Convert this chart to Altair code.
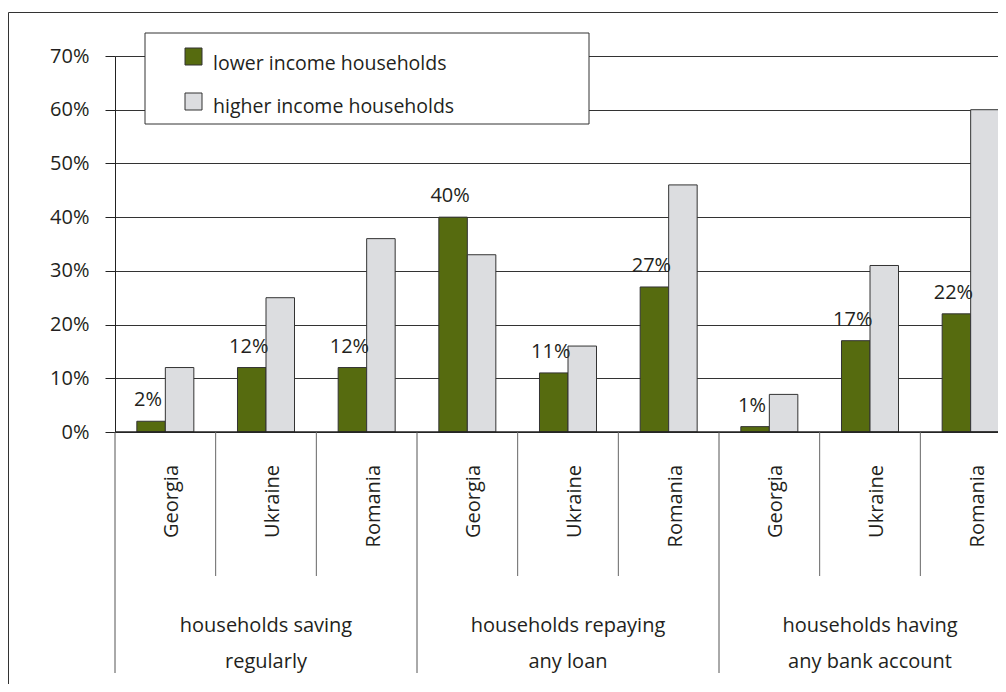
import altair as alt
import pandas as pd

# ---- data ----
groups = ["households saving\nregularly", "households repaying\nany loan", "households having\nany bank account"]
countries = ["Georgia", "Ukraine", "Romania"]
series = ["lower income households", "higher income households"]
lower = [2, 12, 12, 40, 11, 27, 1, 17, 22]
higher = [12, 25, 36, 33, 16, 46, 7, 31, 60]
y_ticks = [0, 10, 20, 30, 40, 50, 60, 70]

colors = ["#566b0f", "#dcdde0"]
FONT = "Open Sans"
TXT = "#231f20"

rows, slot_rows, slots = [], [], []
for gi, g in enumerate(groups):
    for ci, c in enumerate(countries):
        k = gi * 3 + ci
        slot = f"{gi}-{c}"
        slots.append(slot)
        slot_rows.append(dict(slot=slot, group=g, country=c, first=(ci == 0), middle=(ci == 1)))
        for s, v in ((series[0], lower[k]), (series[1], higher[k])):
            rows.append(dict(slot=slot, series=s, value=v, label=f"{v}%"))
df = pd.DataFrame(rows)
sdf = pd.DataFrame(slot_rows)


def X(band=None):
    kw = {}
    if band is not None:
        kw["bandPosition"] = band
    return alt.X("slot:N", sort=slots,
                 scale=alt.Scale(domain=slots, range=[0, 906], paddingInner=0, paddingOuter=0),
                 axis=None, **kw)


XO = alt.XOffset("series:N", sort=series,
                 scale=alt.Scale(domain=series, paddingInner=0, paddingOuter=0.766))

Y = alt.Y("value:Q", scale=alt.Scale(domain=[0, 70], nice=False),
          axis=alt.Axis(values=y_ticks, labelExpr="datum.value + '%'", tickSize=10,
                        labelPadding=16, grid=True, gridColor="#333", gridWidth=1,
                        domainColor="#222", tickColor="#222", labelFont=FONT,
                        labelFontSize=20, labelColor=TXT, title=None))

one = pd.DataFrame({"a": [0]})

frame = alt.Chart(one).mark_rect(fillOpacity=0, stroke="#333", strokeWidth=1).encode(
    x=alt.value(-106.5), x2=alt.value(2000), y=alt.value(-43.5), y2=alt.value(2000))

bars = alt.Chart(df).mark_bar(stroke="#333", strokeWidth=1).encode(
    x=X(), xOffset=XO, y=Y,
    color=alt.Color("series:N", scale=alt.Scale(domain=series, range=colors), legend=None))

base0 = alt.Chart(one).mark_rule(color="#222", strokeWidth=1.5).encode(y=alt.datum(0))

labels = alt.Chart(df[df.series == series[0]]).mark_text(
    font=FONT, fontSize=20, color=TXT, baseline="alphabetic", dy=-15, dx=-3).encode(
    x=X(), xOffset=XO, y=alt.Y("value:Q"), text="label:N")

inner_sep = alt.Chart(sdf[~sdf["first"]]).mark_rule(color="#666", strokeWidth=1).encode(
    x=X(0), y=alt.value(376), y2=alt.value(520))
group_sep = alt.Chart(sdf[sdf["first"]]).mark_rule(color="#555", strokeWidth=1).encode(
    x=X(0), y=alt.value(376), y2=alt.value(617))

country_lbl = alt.Chart(sdf).mark_text(
    font=FONT, fontSize=20, color=TXT, angle=270, align="right", baseline="middle", dy=7).encode(
    x=X(), y=alt.value(409), text="country:N")

group_lbl = alt.Chart(sdf[sdf["middle"]]).mark_text(
    font=FONT, fontSize=20, color=TXT, align="center", baseline="alphabetic",
    lineBreak="\n", lineHeight=36).encode(
    x=X(), y=alt.value(576), text="group:N")

legend_box = alt.Chart(one).mark_rect(fill="white", stroke="#333", strokeWidth=1).encode(
    x=alt.value(30), x2=alt.value(474), y=alt.value(-23), y2=alt.value(68))

leg_layers = []
for i, s in enumerate(series):
    ldf = pd.DataFrame({"series": [s]})
    top = -8 + i * 45
    leg_layers.append(alt.Chart(ldf).mark_rect(fill=colors[i], stroke="#333", strokeWidth=1).encode(
        x=alt.value(70), x2=alt.value(87), y=alt.value(top), y2=alt.value(top + 17)))
    leg_layers.append(alt.Chart(ldf).mark_text(
        font=FONT, fontSize=19.5, color=TXT, align="left", baseline="alphabetic").encode(
        x=alt.value(98), y=alt.value(14 + i * 43), text="series:N"))

chart = alt.layer(
    frame, bars, base0, labels, inner_sep, group_sep, country_lbl, group_lbl,
    legend_box, *leg_layers
).properties(
    width=883, height=376,
    padding={"left": 107, "top": 48, "right": 0, "bottom": 252},
    autosize=alt.AutoSizeParams(type="none"),
).configure_view(stroke=None).configure(font=FONT)

chart.save("out.html", embed_options={"renderer": "svg", "actions": False})
